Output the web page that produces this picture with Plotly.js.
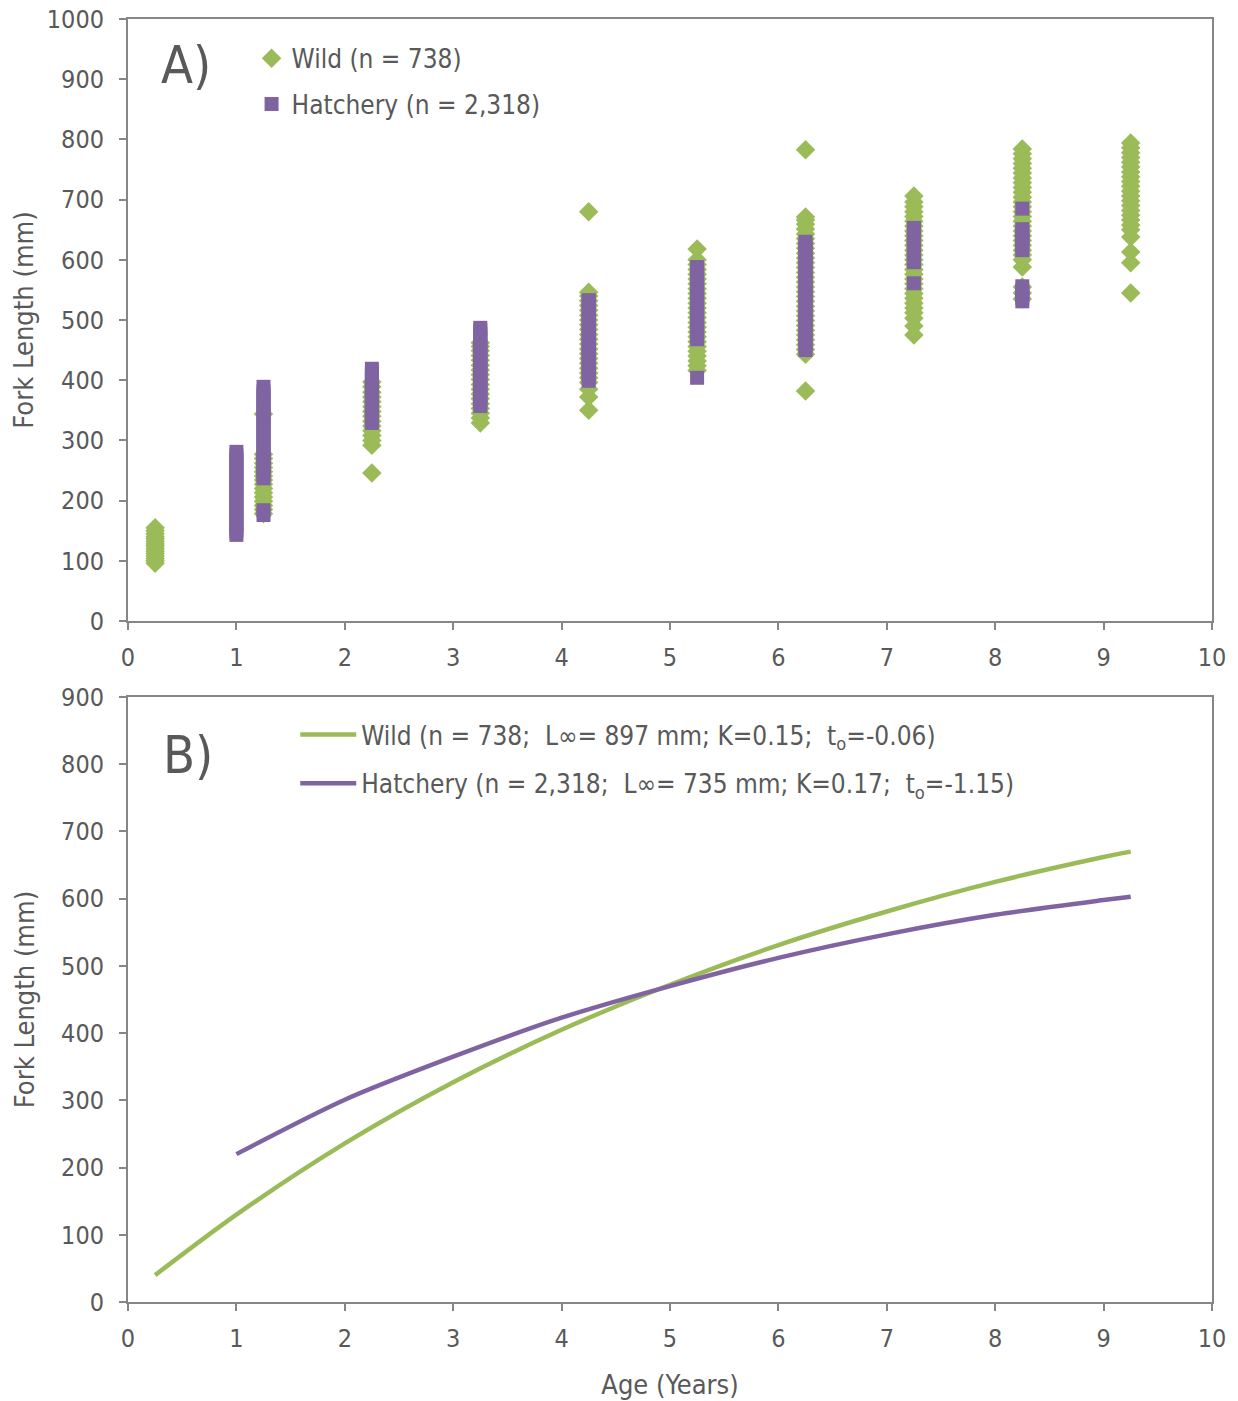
<!DOCTYPE html>
<html>
<head>
<meta charset="utf-8">
<script src="https://cdn.plot.ly/plotly-3.0.1.min.js"></script>
<style>
  html, body { margin: 0; padding: 0; background: #ffffff; }
  #chart { width: 1238px; height: 1401px; }
</style>
</head>
<body>
<div id="chart"></div>
<script>
// Fork length (mm) observed at each assigned age, wild fish
const wildAges = [0.25, 1.25, 2.25, 3.25, 4.25, 5.25, 6.25, 7.25, 8.25, 9.25];
const wildFL = [
  [96, 100, 104, 108, 112, 116, 120, 124, 128, 132, 136, 140, 145, 150, 155],
  [178, 185, 192, 199, 206, 213, 220, 227, 234, 241, 248, 255, 262, 270, 277, 344],
  [246, 292, 300, 308, 316, 324, 332, 340, 348, 356, 364, 372, 380, 389, 397],
  [329, 337, 345, 353, 361, 369, 377, 385, 393, 401, 409, 417, 425, 433, 441, 449, 456, 462],
  [350, 372, 385, 396, 404, 412, 420, 428, 436, 444, 452, 460, 468, 476, 484, 492, 500, 508, 516, 524, 532, 540, 546, 680],
  [416, 424, 432, 440, 448, 456, 464, 472, 480, 488, 496, 504, 512, 520, 528, 536, 544, 552, 560, 568, 576, 584, 592, 600, 618],
  [382, 443, 451, 459, 467, 475, 483, 491, 499, 507, 515, 523, 531, 539, 547, 555, 563, 571, 579, 587, 595, 603, 611, 619, 627, 635, 643, 651, 659, 666, 671, 783],
  [475, 490, 503, 512, 520, 528, 536, 544, 552, 560, 568, 576, 584, 592, 600, 608, 616, 624, 632, 640, 648, 656, 664, 672, 680, 688, 696, 706],
  [535, 545, 555, 588, 600, 608, 616, 624, 632, 640, 648, 656, 664, 672, 680, 688, 696, 704, 712, 720, 728, 736, 744, 752, 760, 768, 776, 784],
  [545, 595, 613, 638, 650, 658, 666, 674, 682, 690, 698, 706, 714, 722, 730, 738, 746, 754, 762, 770, 778, 786, 794]
];

// Fork length (mm) observed at each assigned age, hatchery fish
const hatchAges = [1.0, 1.25, 2.25, 3.25, 4.25, 5.25, 6.25, 7.25, 8.25];
const hatchFL = [
  [143, 149, 155, 161, 167, 173, 179, 185, 191, 197, 203, 209, 215, 221, 227, 233, 239, 245, 251, 257, 263, 269, 275, 281],
  [176, 184, 237, 243, 249, 255, 261, 267, 273, 279, 285, 291, 297, 303, 309, 315, 321, 327, 333, 339, 345, 351, 357, 363, 369, 375, 381, 389],
  [329, 335, 341, 347, 353, 359, 365, 371, 377, 383, 389, 395, 401, 407, 413, 419],
  [357, 363, 369, 375, 381, 387, 393, 399, 405, 411, 417, 423, 429, 435, 441, 447, 453, 459, 465, 471, 477, 483, 487],
  [399, 405, 411, 417, 423, 429, 435, 441, 447, 453, 459, 465, 471, 477, 483, 489, 495, 501, 507, 513, 519, 525, 531, 533],
  [404, 468, 474, 480, 486, 492, 498, 504, 510, 516, 522, 528, 534, 540, 546, 552, 558, 564, 570, 576, 582, 588],
  [450, 456, 462, 468, 474, 480, 486, 492, 498, 504, 510, 516, 522, 528, 534, 540, 546, 552, 558, 564, 570, 576, 582, 588, 594, 600, 606, 612, 618, 624, 630],
  [561, 596, 602, 608, 614, 620, 626, 632, 638, 644, 650, 653],
  [531, 537, 543, 549, 556, 616, 622, 628, 634, 640, 646, 651, 685]
];

// Fitted von Bertalanffy growth curves (mm) at age
const wildCurveAge = [0.25, 1, 2, 3, 4, 5, 6, 7, 8, 9, 9.25];
const wildCurveFL  = [40, 130, 236, 327, 405, 472, 531, 581, 625, 662, 670];
const hatchCurveAge = [1, 2, 3, 4, 5, 6, 7, 8, 9, 9.25];
const hatchCurveFL  = [220, 301, 365, 423, 470, 512, 547, 576, 598, 603];

const wildName  = 'Wild (n = 738)';
const hatchName = 'Hatchery (n = 2,318)';
const wildFitName  = 'Wild (n = 738;  L\u221E= 897 mm; K=0.15;  t<sub>o</sub>=-0.06)';
const hatchFitName = 'Hatchery (n = 2,318;  L\u221E= 735 mm; K=0.17;  t<sub>o</sub>=-1.15)';

const GREEN = '#9BBB59';
const PURPLE = '#8064A2';
const AXIS = '#868686';
const TEXT = '#595959';
const FONT = '"DejaVu Sans Condensed", "DejaVu Sans", sans-serif';

function flatten(ages, groups) {
  const xs = [], ys = [];
  groups.forEach((vals, i) => vals.forEach(v => { xs.push(ages[i]); ys.push(v); }));
  return { xs, ys };
}

const wildPts = flatten(wildAges, wildFL);
const hatchPts = flatten(hatchAges, hatchFL);

const traces = [
  {
    type: 'scatter', mode: 'markers', name: wildName,
    x: wildPts.xs, y: wildPts.ys, xaxis: 'x', yaxis: 'y',
    marker: { symbol: 'diamond', size: 15, color: GREEN, line: { width: 0 } },
    legend: 'legend', legendgroup: 'w'
  },
  {
    type: 'scatter', mode: 'markers', name: hatchName,
    x: hatchPts.xs, y: hatchPts.ys, xaxis: 'x', yaxis: 'y',
    marker: { symbol: 'square', size: 14, color: PURPLE, line: { width: 0 } },
    legend: 'legend', legendgroup: 'h'
  },
  {
    type: 'scatter', mode: 'lines', name: wildFitName,
    x: wildCurveAge, y: wildCurveFL, xaxis: 'x2', yaxis: 'y2',
    line: { color: GREEN, width: 4.5, shape: 'spline', smoothing: 0.8 },
    legend: 'legend2', legendgroup: 'w2'
  },
  {
    type: 'scatter', mode: 'lines', name: hatchFitName,
    x: hatchCurveAge, y: hatchCurveFL, xaxis: 'x2', yaxis: 'y2',
    line: { color: PURPLE, width: 4.5, shape: 'spline', smoothing: 0.8 },
    legend: 'legend2', legendgroup: 'h2'
  }
];

const tickFont = { family: FONT, size: 25, color: TEXT };
const titleFont = { family: FONT, size: 27, color: TEXT };

const axisBase = {
  showline: true, linecolor: AXIS, linewidth: 2, mirror: true,
  ticks: 'outside', ticklen: 7, tickwidth: 2, tickcolor: AXIS,
  showgrid: false, zeroline: false,
  tickfont: tickFont
};

const layout = {
  width: 1238, height: 1401,
  margin: { l: 128, r: 26, t: 19, b: 99 },
  paper_bgcolor: '#ffffff', plot_bgcolor: '#ffffff',
  font: { family: FONT, size: 24, color: TEXT },
  showlegend: true,
  xaxis: Object.assign({}, axisBase, {
    anchor: 'y', domain: [0, 1], range: [0, 10], dtick: 1, tick0: 0, ticklabelstandoff: 6
  }),
  yaxis: Object.assign({}, axisBase, {
    anchor: 'x', domain: [0.5308, 1], range: [0, 1000], dtick: 100, tick0: 0, ticklabelstandoff: 10,
    title: { text: 'Fork Length (mm)', font: titleFont, standoff: 5 }
  }),
  xaxis2: Object.assign({}, axisBase, {
    anchor: 'y2', domain: [0, 1], range: [0, 10], dtick: 1, tick0: 0, ticklabelstandoff: 6,
    title: { text: 'Age (Years)', font: titleFont, standoff: 23 }
  }),
  yaxis2: Object.assign({}, axisBase, {
    anchor: 'x2', domain: [0, 0.4715], range: [0, 900], dtick: 100, tick0: 0, ticklabelstandoff: 10,
    title: { text: 'Fork Length (mm)', font: titleFont, standoff: 19 }
  }),
  legend: {
    x: 0.114, y: 0.9877, xref: 'paper', yref: 'paper', xanchor: 'left', yanchor: 'top',
    bgcolor: 'rgba(0,0,0,0)', borderwidth: 0,
    font: { family: FONT, size: 26, color: TEXT },
    tracegroupgap: 9
  },
  legend2: {
    x: 0.1543, y: 0.4606, xref: 'paper', yref: 'paper', xanchor: 'left', yanchor: 'top',
    bgcolor: 'rgba(0,0,0,0)', borderwidth: 0,
    font: { family: FONT, size: 26, color: TEXT },
    tracegroupgap: 12, itemwidth: 56
  },
  annotations: [
    {
      text: 'A)', xref: 'x domain', yref: 'y domain', x: 0.0285, y: 0.9236,
      xanchor: 'left', yanchor: 'middle', showarrow: false,
      font: { family: FONT, size: 52, color: TEXT }
    },
    {
      text: 'B)', xref: 'x2 domain', yref: 'y2 domain', x: 0.030, y: 0.904,
      xanchor: 'left', yanchor: 'middle', showarrow: false,
      font: { family: FONT, size: 52, color: TEXT }
    }
  ]
};

Plotly.newPlot('chart', traces, layout, { displayModeBar: false, responsive: false });
</script>
</body>
</html>
